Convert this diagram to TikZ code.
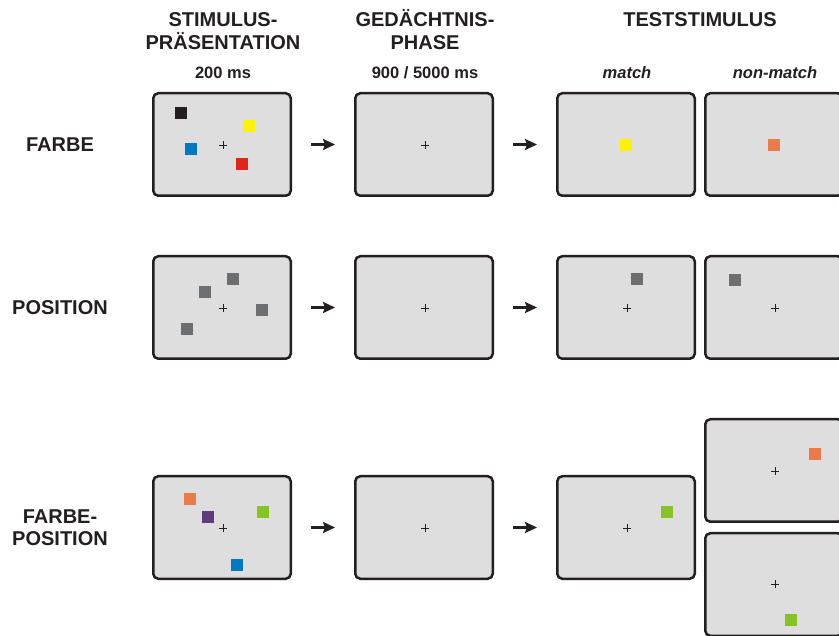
\documentclass[tikz,border=0pt]{standalone}
\usepackage{fontspec}
\setmainfont{Liberation Sans}
\usetikzlibrary{arrows.meta, positioning}

\definecolor{screengray}{HTML}{DEDEDE}
\definecolor{framedark}{HTML}{231F20}
\definecolor{sqblack}{HTML}{231F20}
\definecolor{sqyellow}{HTML}{FFF200}
\definecolor{sqblue}{HTML}{0079C1}
\definecolor{sqred}{HTML}{E1251B}
\definecolor{sqorange}{HTML}{EA7A48}
\definecolor{sqgray}{HTML}{6D6E70}
\definecolor{sqpurple}{HTML}{5E3B7A}
\definecolor{sqgreen}{HTML}{87C226}

\begin{document}
\begin{tikzpicture}[
  x=1pt, y=-1pt,
  node distance=62pt and 62pt,
  screen/.style={rectangle, draw=framedark, line width=2.5pt, rounded corners=5pt,
                 fill=screengray, minimum width=137.5pt, minimum height=102.5pt,
                 inner sep=0pt},
  sq/.style={rectangle, minimum size=11.5pt, inner sep=0pt, outer sep=0pt},
  arr/.style={-{Stealth[length=12pt, width=11pt, inset=2pt]}, line width=2.5pt,
              draw=framedark, shorten <=19pt, shorten >=19pt},
  head/.style={font=\bfseries\fontsize{20}{23}\selectfont, text=framedark,
               align=center, anchor=base, inner sep=0pt},
  dur/.style={font=\bfseries\fontsize{16.5}{20}\selectfont, text=framedark,
              anchor=base, inner sep=0pt},
  cond/.style={dur, font=\bfseries\itshape\fontsize{16.5}{20}\selectfont},
  fixation/.pic={\draw[framedark, line width=0.9pt] (-4,0) -- (4,0) (0,-4) -- (0,4);}
]
\useasboundingbox (0,0) rectangle (839,636);
\clip (0,0) rectangle (839,636);

% Headings (base = last line)
\node[head] (hstim) at (223,50) {STIMULUS-\\PRÄSENTATION};
\node[head] (hmem) at (425,50) {GEDÄCHTNIS-\\PHASE};
\node[head] (htest) at (700,27) {TESTSTIMULUS};
\node[dur] (tstim) at (223,79) {200 ms};
\node[dur] (tmem) at (425,79) {900 / 5000 ms};
\node[cond] (tmatch) at (627,79) {match};
\node[cond] (tnon) at (775,79) {non-match};

% Row labels
\node[head] (lfarbe) at (60,152) {FARBE};
\node[head] (lpos) at (60,315) {POSITION};
\node[head] (lfp) at (60,546) {FARBE-\\POSITION};

% Row 1: Farbe
\node[screen] (s11) at (222,144.5) {};
\node[screen, right=of s11] (s12) {};
\node[screen, right=of s12] (s13) {};
\node[screen, right=8pt of s13] (s14) {};
\draw[arr] (s11) -- (s12);
\draw[arr] (s12) -- (s13);
\node[sq, fill=sqblack] (f1) at (181,113) {};
\node[sq, fill=sqyellow] (f2) at (249,126) {};
\node[sq, fill=sqblue] (f3) at (191,149) {};
\node[sq, fill=sqred] (f4) at (242,164) {};
\pic at (223,145) {fixation};
\pic at (425,145) {fixation};
\node[sq, fill=sqyellow] (f5) at (626,145) {};
\node[sq, fill=sqorange] (f6) at (774,145) {};

% Row 2: Position
\node[screen] (s21) at (222,307.5) {};
\node[screen, right=of s21] (s22) {};
\node[screen, right=of s22] (s23) {};
\node[screen, right=8pt of s23] (s24) {};
\draw[arr] (s21) -- (s22);
\draw[arr] (s22) -- (s23);
\node[sq, fill=sqgray] (p1) at (233,279) {};
\node[sq, fill=sqgray] (p2) at (205,292) {};
\node[sq, fill=sqgray] (p3) at (262,310) {};
\node[sq, fill=sqgray] (p4) at (187,329) {};
\node[sq, fill=sqgray] (p5) at (637,279) {};
\node[sq, fill=sqgray] (p6) at (735,280) {};
\pic at (223,308) {fixation};
\pic at (425,308) {fixation};
\pic at (627,308) {fixation};
\pic at (775,308) {fixation};

% Row 3: Farbe-Position
\node[screen] (s31) at (222,527.5) {};
\node[screen, right=of s31] (s32) {};
\node[screen, right=of s32] (s33) {};
\node[screen, right=8pt of s33, yshift=57pt] (s34) {};
\node[screen, below=9pt of s34] (s35) {};
\draw[arr] (s31) -- (s32);
\draw[arr] (s32) -- (s33);
\node[sq, fill=sqorange] (c1) at (190,499) {};
\node[sq, fill=sqpurple] (c2) at (208,517) {};
\node[sq, fill=sqgreen] (c3) at (263,512) {};
\node[sq, fill=sqblue] (c4) at (237,565) {};
\pic at (223,528) {fixation};
\pic at (425,528) {fixation};
\pic at (627,528) {fixation};
\node[sq, fill=sqgreen] (c5) at (667,512) {};
\pic at (775,471) {fixation};
\node[sq, fill=sqorange] (c6) at (815,454) {};
\pic at (775,584) {fixation};
\node[sq, fill=sqgreen] (c7) at (791,620) {};
\end{tikzpicture}
\end{document}
